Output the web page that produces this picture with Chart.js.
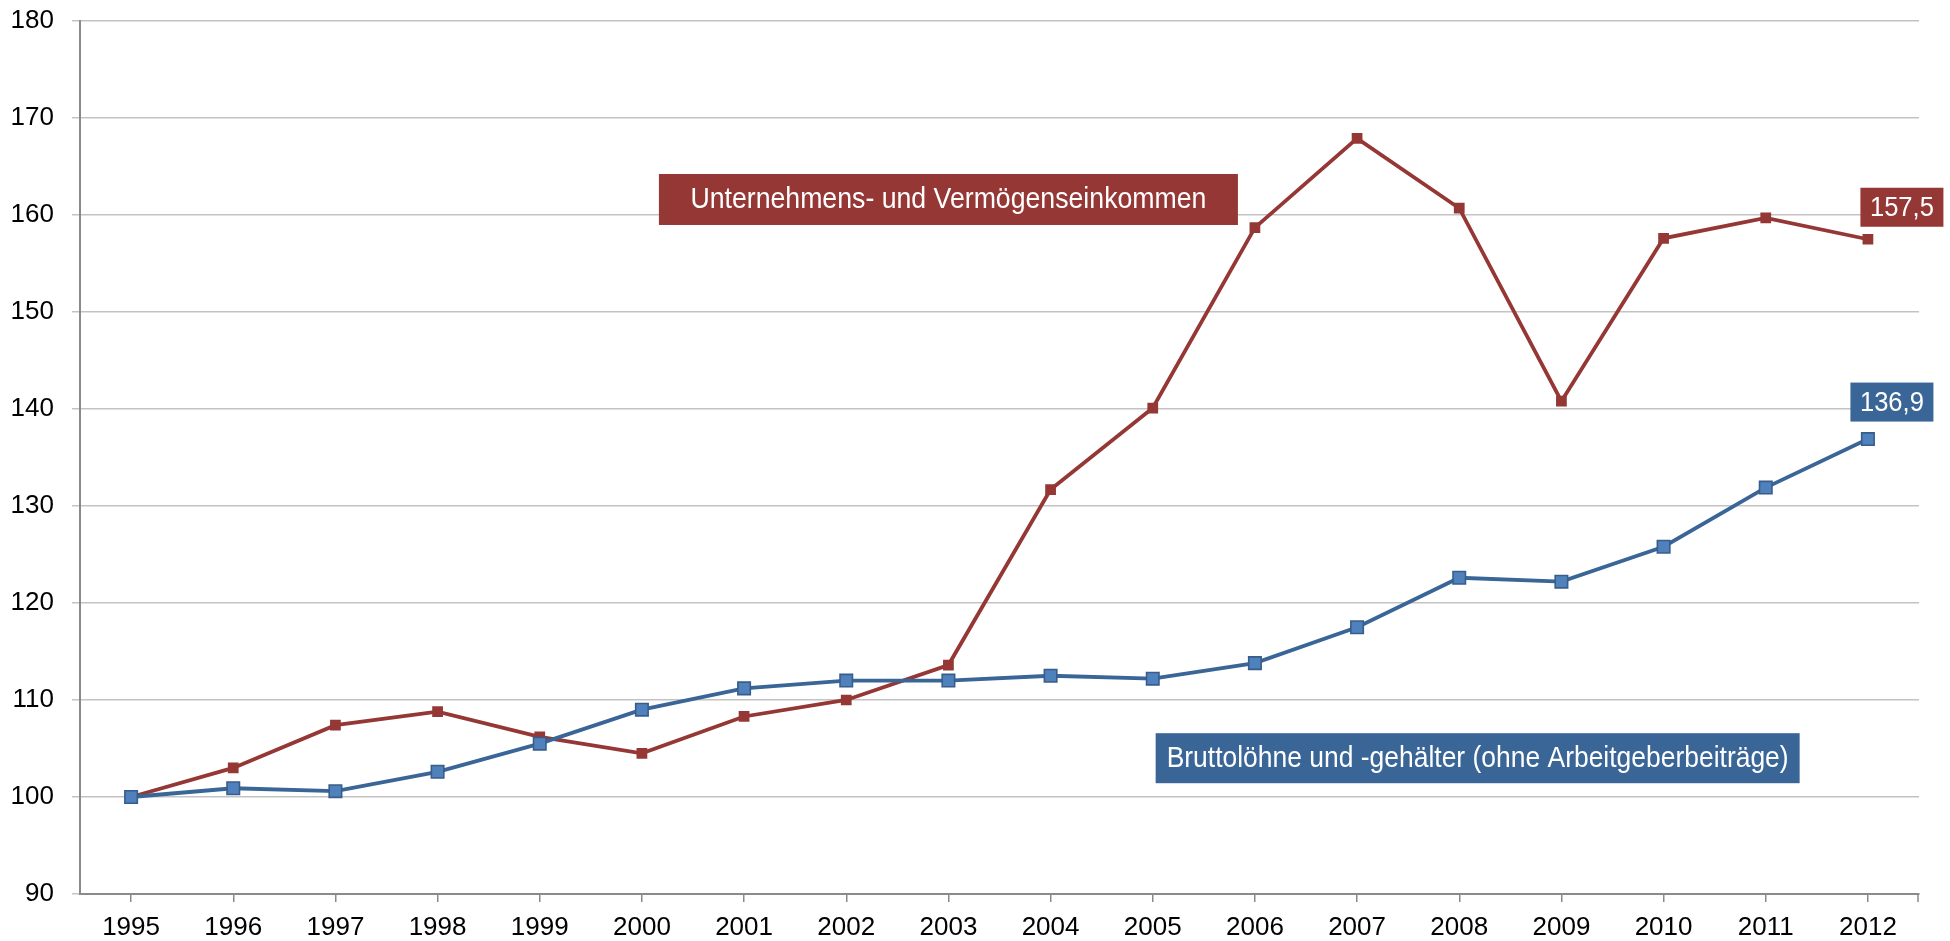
<!DOCTYPE html>
<html>
<head>
<meta charset="utf-8">
<script src="https://cdn.jsdelivr.net/npm/chart.js@4.4.1/dist/chart.umd.min.js"></script>
<style>
  html, body { margin: 0; padding: 0; background: #ffffff; }
  #wrap { width: 1950px; height: 941px; position: relative; }
</style>
</head>
<body>
<div id="wrap"><canvas id="c" width="1950" height="941"></canvas></div>
<script>
// ---- data ----
const years = ['1995','1996','1997','1998','1999','2000','2001','2002','2003','2004','2005','2006','2007','2008','2009','2010','2011','2012'];
const unternehmenSeries = [100, 103.0, 107.4, 108.8, 106.2, 104.5, 108.3, 110.0, 113.6, 131.7, 140.1, 158.7, 167.9, 160.7, 140.8, 157.6, 159.7, 157.5];
const bruttoSeries = [100, 100.9, 100.6, 102.6, 105.5, 109.0, 111.2, 112.0, 112.0, 112.5, 112.2, 113.8, 117.5, 122.6, 122.2, 125.8, 131.9, 136.9];
const yTickValues = [90, 100, 110, 120, 130, 140, 150, 160, 170, 180];
const seriesNames = ['Unternehmens- und Vermögenseinkommen', 'Bruttolöhne und -gehälter (ohne Arbeitgeberbeiträge)'];

const RED = '#953735';
const BLUE_LINE = '#3A6597';
const BLUE_FILL = '#4F81BD';
const BLUE_EDGE = '#385D8A';
const AXIS = '#8a8a8a';
const FONT = '"Liberation Sans", Arial, sans-serif';

const fmt = v => v.toFixed(1).replace('.', ',');

// name boxes anchored in data space (category index, value)
const nameBoxes = [
  { text: seriesNames[0], cx: 8, cy: 161.6, w: 579, h: 51, fill: RED, tw: 516 },
  { text: seriesNames[1], cx: 13.18, cy: 104.0, w: 644, h: 50, fill: BLUE_LINE, tw: 622 }
];
// end-value labels (offsets in px from the last point)
const valueLabels = [
  { ds: 0, dx: 34, dy: -32, w: 83, h: 39, fill: RED, tw: 64 },
  { ds: 1, dx: 24, dy: -37, w: 83, h: 39, fill: BLUE_LINE, tw: 64 }
];

function drawCondensed(ctx, text, cx, cy, size, targetW) {
  ctx.font = size + 'px ' + FONT;
  const w = ctx.measureText(text).width;
  const sx = Math.min(1, targetW / w);
  ctx.save();
  ctx.translate(cx, cy);
  ctx.scale(sx, 1);
  ctx.fillText(text, 0, 0);
  ctx.restore();
}

const boxPlugin = {
  id: 'boxes',
  afterDraw(chart) {
    const ctx = chart.ctx;
    const xs = chart.scales.x, ys = chart.scales.y;
    const area = chart.chartArea;
    ctx.save();
    // closing tick at the right end of the category axis
    ctx.strokeStyle = AXIS;
    ctx.lineWidth = 1.5;
    ctx.beginPath();
    ctx.moveTo(area.right - 1, area.bottom);
    ctx.lineTo(area.right - 1, area.bottom + 8);
    ctx.stroke();

    ctx.textAlign = 'center';
    ctx.textBaseline = 'middle';
    nameBoxes.forEach(b => {
      const cx = xs.getPixelForValue(b.cx);
      const cy = ys.getPixelForValue(b.cy);
      ctx.fillStyle = b.fill;
      ctx.fillRect(cx - b.w / 2, cy - b.h / 2, b.w, b.h);
      ctx.fillStyle = '#ffffff';
      drawCondensed(ctx, b.text, cx, cy + 1, 29, b.tw);
    });
    valueLabels.forEach(l => {
      const meta = chart.getDatasetMeta(l.ds);
      const data = chart.data.datasets[l.ds].data;
      const last = meta.data[meta.data.length - 1];
      const cx = last.x + l.dx, cy = last.y + l.dy;
      ctx.fillStyle = l.fill;
      ctx.fillRect(cx - l.w / 2, cy - l.h / 2, l.w, l.h);
      ctx.fillStyle = '#ffffff';
      drawCondensed(ctx, fmt(data[data.length - 1]), cx, cy + 1, 28, l.tw);
    });
    ctx.restore();
  }
};

new Chart(document.getElementById('c'), {
  type: 'line',
  data: {
    labels: years,
    datasets: [
      {
        label: seriesNames[0],
        data: unternehmenSeries,
        borderColor: RED,
        borderWidth: 3.8,
        backgroundColor: RED,
        pointStyle: 'rect',
        pointRadius: 7.6,
        pointBackgroundColor: RED,
        pointBorderColor: RED,
        pointBorderWidth: 0,
        tension: 0,
        order: 2
      },
      {
        label: seriesNames[1],
        data: bruttoSeries,
        borderColor: BLUE_LINE,
        borderWidth: 3.8,
        backgroundColor: BLUE_FILL,
        pointStyle: 'rect',
        pointRadius: 8.8,
        pointBackgroundColor: BLUE_FILL,
        pointBorderColor: BLUE_EDGE,
        pointBorderWidth: 1.6,
        tension: 0,
        order: 1
      }
    ]
  },
  options: {
    responsive: false,
    animation: false,
    devicePixelRatio: 1,
    layout: { padding: { top: 21, right: 31, left: 0, bottom: 0 } },
    plugins: { legend: { display: false }, tooltip: { enabled: false } },
    scales: {
      x: {
        offset: true,
        grid: { drawOnChartArea: false, drawTicks: true, tickLength: 8, color: AXIS, lineWidth: 1.5, offset: false },
        border: { color: AXIS, width: 2 },
        ticks: { color: '#000000', font: { family: FONT, size: 26 }, padding: 10, maxRotation: 0, autoSkip: false },
        afterFit(s) { s.height = 47; s.paddingLeft = 0; s.paddingRight = 0; }
      },
      y: {
        min: 90, max: 180,
        afterBuildTicks(s) { s.ticks = yTickValues.map(v => ({ value: v })); },
        grid: { color: '#c3c3c3', lineWidth: 1.5, tickLength: 8 },
        border: { color: AXIS, width: 2 },
        ticks: { color: '#000000', font: { family: FONT, size: 26 }, padding: 18 },
        afterFit(s) { s.width = 80; s.paddingTop = 0; s.paddingBottom = 0; }
      }
    }
  },
  plugins: [boxPlugin]
});
</script>
</body>
</html>
